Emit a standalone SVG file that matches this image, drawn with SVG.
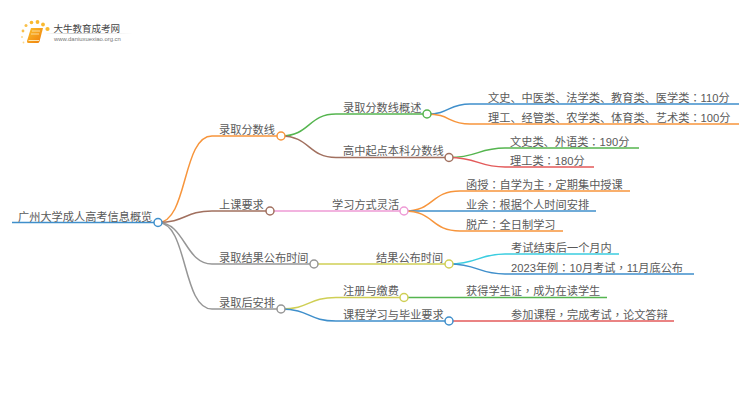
<svg xmlns="http://www.w3.org/2000/svg" width="750" height="410" viewBox="0 0 750 410">
<defs>
<linearGradient id="bk" x1="0" y1="0" x2="1" y2="1"><stop offset="0" stop-color="#fbc02d"/><stop offset="1" stop-color="#ef7d0a"/></linearGradient>
<linearGradient id="fade" x1="0" y1="0" x2="1" y2="0"><stop offset="0" stop-color="#ccc" stop-opacity="0"/><stop offset="0.3" stop-color="#ccc"/><stop offset="1" stop-color="#ccc" stop-opacity="0"/></linearGradient>
</defs>
<style>
text{font-family:"Liberation Sans","Noto Sans CJK SC",sans-serif;font-size:11.2px;fill:#5a5a5a}
tspan{font-family:"Noto Sans CJK TC",sans-serif}
.c path{fill:none;stroke-width:1.5}
circle{fill:#fff;stroke-width:1.5}
.d{stroke:none}
.o{stroke:#f7953c}.b{stroke:#a1705f}.g{stroke:#969696}.n{stroke:#55b54f}.u{stroke:#3f8fcb}.p{stroke:#ee9ad5}.y{stroke:#cfcf55}.a{stroke:#3bcde0}.r{stroke:#e35a5a}
</style>
<rect width="750" height="410" fill="#fff"/>
<g id="logo">
<circle class="d" cx="22" cy="37" r="1" style="fill:#fbd78c"/><circle class="d" cx="23" cy="31" r="1.4" style="fill:#f9c04a"/><circle class="d" cx="26" cy="25.500" r="1.500" style="fill:#f9c04a"/><circle class="d" cx="31.500" cy="22.500" r="1.800" style="fill:#f9b92f"/><circle class="d" cx="37.500" cy="22" r="1.900" style="fill:#f9b92f"/><circle class="d" cx="43" cy="24.500" r="1.900" style="fill:#f9b92f"/><circle class="d" cx="47.500" cy="29" r="2.100" style="fill:#f9b92f"/><circle class="d" cx="23.500" cy="42.500" r="0.900" style="fill:#fbd78c"/>
<path d="M31 28H43L39.500 41.500Q39 43 37.500 43H28.500Q26.500 43 27 41Z" fill="url(#bk)"/>
<path d="M28.500 40.500H39" stroke="#fde9b8" stroke-width="1"/>
<path d="M32 31H40M31 34H39" stroke="#fde9b8" stroke-width="0.800"/>
<text x="53.500" y="31.500" style="font-size:9.500px;fill:#444">大牛教育成考网</text>
<rect x="45" y="33" width="88" height="1" fill="url(#fade)"/>
<text x="54" y="41" style="font-size:5.900px;fill:#777">www.daniuxuexiao.org.cn</text>
</g>
<g id="connectors" class="c">
<path class="u" d="M12 222.500H158"/>
<path class="o" d="M158 222.500C188 222.500 182 136 212 136H281"/>
<path class="b" d="M158 222.500C185 222.500 185 211 212 211H270"/>
<path class="g" d="M158 222.500C185 222.500 185 264 212 264H314"/>
<path class="g" d="M158 222.500C188 222.500 182 309 212 309H281"/>
<path class="n" d="M281 136C310 136 308 114 336 114H427"/>
<path class="b" d="M281 136C310 136 308 157.500 336 157.500H449"/>
<path class="u" d="M427 114C450 114 448 104 470 104H739"/>
<path class="o" d="M427 114C450 114 448 124 470 124H739"/>
<path class="n" d="M449 157.500C478 157.500 478 148 505 148H639"/>
<path class="r" d="M449 157.500C478 157.500 478 167 505 167H594"/>
<path class="p" d="M270 211H404"/>
<path class="o" d="M404 211C435 211 430 191 460 191H630"/>
<path class="u" d="M404 211H596"/>
<path class="o" d="M404 211C435 211 430 231 460 231H563"/>
<path class="y" d="M314 264H449"/>
<path class="a" d="M449 264C478 264 478 254 505 254H619"/>
<path class="u" d="M449 264C478 264 478 274 505 274H694"/>
<path class="y" d="M281 309C310 309 308 297.500 336 297.500H404"/>
<path class="u" d="M281 309C310 309 308 321 336 321H449"/>
<path class="n" d="M404 297.500H607"/>
<path class="r" d="M449 321H674"/>
</g>
<g id="root"><text x="18" y="220.500">广州大学成人高考信息概览</text><circle class="u" cx="158" cy="222.500" r="4"/></g>
<g id="n1"><text x="219" y="133.500">录取分数线</text><circle class="o" cx="281" cy="136" r="4"/></g>
<g id="n11"><text x="343" y="111.500">录取分数线概述</text><circle class="n" cx="427" cy="114" r="4"/></g>
<g id="n111"><text x="488" y="101.500">文史、中医类、法学类、教育类、医学类<tspan>：</tspan>110分</text></g>
<g id="n112"><text x="488" y="121.500">理工、经管类、农学类、体育类、艺术类<tspan>：</tspan>100分</text></g>
<g id="n12"><text x="343" y="155">高中起点本科分数线</text><circle class="b" cx="449" cy="157.500" r="4"/></g>
<g id="n121"><text x="510" y="145.500">文史类、外语类<tspan>：</tspan>190分</text></g>
<g id="n122"><text x="510" y="164.500">理工类<tspan>：</tspan>180分</text></g>
<g id="n2"><text x="219" y="208.500">上课要求</text><circle class="b" cx="270" cy="211" r="4"/></g>
<g id="n21"><text x="332" y="208.500">学习方式灵活</text><circle class="p" cx="404" cy="211" r="4"/></g>
<g id="n211"><text x="466" y="188.500">函授<tspan>：</tspan>自学为主<tspan>，</tspan>定期集中授课</text></g>
<g id="n212"><text x="466" y="208.500">业余<tspan>：</tspan>根据个人时间安排</text></g>
<g id="n213"><text x="466" y="228.500">脱产<tspan>：</tspan>全日制学习</text></g>
<g id="n3"><text x="219" y="261.500">录取结果公布时间</text><circle class="g" cx="314" cy="264" r="4"/></g>
<g id="n31"><text x="376" y="261.500">结果公布时间</text><circle class="y" cx="449" cy="264" r="4"/></g>
<g id="n311"><text x="511" y="251.500">考试结束后一个月内</text></g>
<g id="n312"><text x="511" y="271.500">2023年例<tspan>：</tspan>10月考试<tspan>，</tspan>11月底公布</text></g>
<g id="n4"><text x="219" y="306.500">录取后安排</text><circle class="g" cx="281" cy="309" r="4"/></g>
<g id="n41"><text x="343" y="295">注册与缴费</text><circle class="y" cx="404" cy="297.500" r="4"/></g>
<g id="n411"><text x="466" y="295">获得学生证<tspan>，</tspan>成为在读学生</text></g>
<g id="n42"><text x="343" y="318.500">课程学习与毕业要求</text><circle class="u" cx="449" cy="321" r="4"/></g>
<g id="n421"><text x="511" y="318.500">参加课程<tspan>，</tspan>完成考试<tspan>，</tspan>论文答辩</text></g>
</svg>
